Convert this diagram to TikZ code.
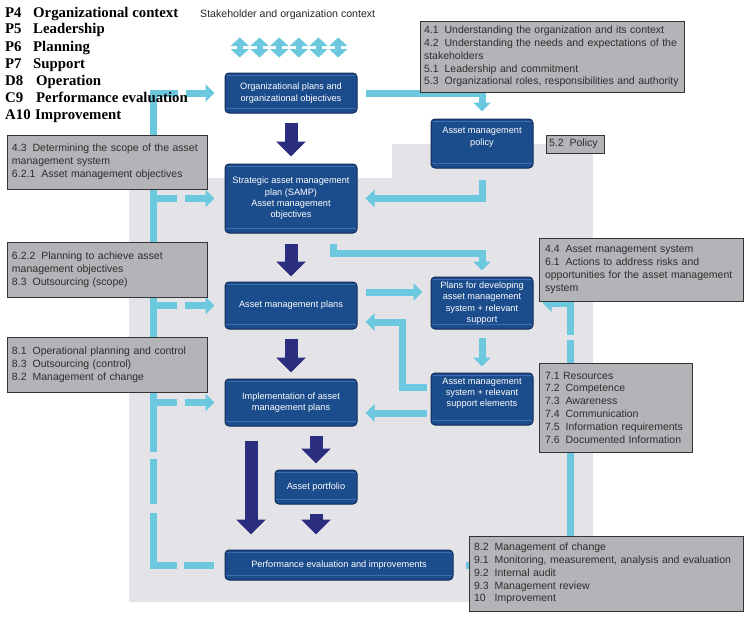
\documentclass[tikz,border=0pt]{standalone}
\usepackage{fontspec}
\setmainfont{Liberation Sans}
\newfontfamily\legendfont{Liberation Serif}
\usetikzlibrary{arrows.meta}
\definecolor{lblue}{RGB}{108,200,222}
\definecolor{navyar}{RGB}{43,46,126}
\definecolor{boxblue}{RGB}{27,76,140}
\definecolor{boxedge}{RGB}{15,42,88}
\definecolor{boxlight}{RGB}{62,108,172}
\definecolor{bggray}{RGB}{228,228,232}
\definecolor{notegray}{RGB}{180,180,184}
\definecolor{notetext}{RGB}{45,45,45}
\newcommand{\ngap}{\hspace{6pt}}
\begin{document}
\begin{tikzpicture}[x=1pt,y=-1pt,
  bbox/.style={draw=boxedge, fill=boxblue, line width=1pt, rounded corners=4pt,
    text=white, align=center, inner sep=0pt, font=\fontsize{9.2}{11.3}\selectfont,
    path picture={\draw[boxlight, line width=1pt]
      ([yshift=5pt]path picture bounding box.south west) -- ([yshift=5pt]path picture bounding box.south east);
      \draw[boxlight, line width=0.8pt]
      ([yshift=-2.5pt]path picture bounding box.north west) -- ([yshift=-2.5pt]path picture bounding box.north east);}},
  note/.style={draw=black!80, fill=notegray, line width=0.9pt, text=notetext,
    align=left, inner ysep=0pt, font=\fontsize{10.5}{12.8}\selectfont},
  legend/.style={anchor=base west, inner sep=0pt, font=\legendfont\bfseries\fontsize{14.8}{17}\selectfont},
  navyarrow/.style={draw=navyar, line width=13pt, -{Triangle[width=29pt,length=15pt]}},
  lb/.style={draw=lblue, line width=7pt},
  lbarrow/.style={lb, -{Triangle[width=17pt,length=9pt]}},
  stakearrow/.style={draw=lblue, line width=6pt, {Triangle[width=18pt,length=8.5pt]}-{Triangle[width=18pt,length=8.5pt]}}
]
\useasboundingbox (0,0) rectangle (753,621);
\fill[white] (0,0) rectangle (753,621);
\fill[bggray] (129,178) -- (392,178) -- (392,144) -- (593,144) -- (593,602) -- (129,602) -- cycle;

\node[anchor=base west, inner sep=0pt, text=black!85, font=\fontsize{10.6}{12}\selectfont] (stk) at (200,17) {Stakeholder and organization context};
\foreach \x in {239.8,259.5,279.2,298.8,318.5,338.2}
  \draw[stakearrow] (\x,37.5) -- (\x,57.5);

% blue boxes
\node[bbox, minimum width=132pt, minimum height=40pt] (b1) at (291,93) {Organizational plans and\\organizational objectives};
\node[bbox, minimum width=102pt, minimum height=49pt] (b2) at (482,143.5) {Asset management\\policy\\[3pt]};
\node[bbox, minimum width=132pt, minimum height=69pt] (b3) at (291,198.5) {Strategic asset management\\plan (SAMP)\\Asset management\\objectives};
\node[bbox, minimum width=132pt, minimum height=47pt] (b4) at (291,305.5) {Asset management plans};
\node[bbox, minimum width=102pt, minimum height=52pt] (b5) at (482,303) {Plans for developing\\asset management\\system + relevant\\support};
\node[bbox, minimum width=102pt, minimum height=52pt] (b6) at (482,399) {Asset management\\system + relevant\\support elements\\[2pt]};
\node[bbox, minimum width=132pt, minimum height=47pt] (b7) at (291,402.5) {Implementation of asset\\management plans};
\node[bbox, minimum width=82pt, minimum height=34pt] (b8) at (316,487) {Asset portfolio};
\node[bbox, minimum width=228pt, minimum height=30pt] (b9) at (339,565) {Performance evaluation and improvements};

% navy block arrows
\draw[navyarrow, shorten <=9pt, shorten >=7pt] (b1.south) -- (b3.north);
\draw[navyarrow, shorten <=10pt, shorten >=5pt] (b3.south) -- (b4.north);
\draw[navyarrow, shorten <=9pt, shorten >=6pt] (b4.south) -- (b7.north);
\draw[navyarrow, shorten <=9pt, shorten >=6pt] (b7.south -| b8.north) -- (b8.north);
\draw[navyarrow, shorten <=9pt, shorten >=15pt] (b8.south) -- (b8.south |- b9.north);
\draw[navyarrow, shorten <=14pt, shorten >=15pt] ([xshift=-40pt]b7.south) -- ([xshift=-40pt]b7.south |- b9.north);

% light blue connectors
\coordinate (c3b) at (333,253);
\coordinate (c6a) at (402,387);
\coordinate (c6b) at (402,322);
\coordinate (c8a) at (570,565);
\coordinate (c8b) at (570,303);
\coordinate (cLb) at (153,565);
\coordinate (cLt) at (153,93);

\draw[lbarrow, shorten <=8pt, shorten >=7pt] (b1.east) -- (b1.east -| b2.north) -- (b2.north);
\draw[lbarrow, shorten <=11pt, shorten >=8pt] (b2.south) -- (b2.south |- b3.east) -- (b3.east);
\draw[lbarrow, shorten <=10pt, shorten >=6pt] (c3b |- b3.south) -- (c3b) -- (c3b -| b5.north) -- (b5.north);
\draw[lbarrow, shorten <=8pt, shorten >=8pt] ([yshift=13.5pt]b4.east) -- ([yshift=13.5pt]b4.east -| b5.west);
\draw[lbarrow, shorten <=8pt, shorten >=6pt] (b5.south) -- (b6.north);
\draw[lbarrow, shorten <=4pt, shorten >=8pt] ([yshift=12pt]b6.west) -- (c6a) -- (c6b) -- (c6b -| b4.east);
\draw[lbarrow, shorten <=4pt, shorten >=8pt] ([yshift=-14pt]b6.west) -- ([yshift=-14pt]b6.west -| b7.east);
\draw[lbarrow, shorten <=12pt, shorten >=9pt, dash pattern=on 330pt off 5pt on 1000pt] (b9.east) -- (c8a) -- (c8b) -- (b5.east);
\draw[lbarrow, shorten <=11pt, shorten >=10pt, dash pattern=on 30pt off 7pt on 76pt off 9pt on 45pt off 7pt on 383pt off 8pt on 300pt] (b9.west) -- (cLb) -- (cLt) -- (b1.west);
\draw[lbarrow, shorten >=10pt, dash pattern=on 24pt off 8pt on 200pt] (cLt |- b3.west) -- (b3.west);
\draw[lbarrow, shorten >=10pt, dash pattern=on 24pt off 8pt on 200pt] (cLt |- b4.west) -- (b4.west);
\draw[lbarrow, shorten >=10pt, dash pattern=on 24pt off 8pt on 200pt] (cLt |- b7.west) -- (b7.west);

% notes
\node[note, minimum height=71pt, text width=256pt, inner xsep=4pt] (nA) at (552,56.5) {4.1\ngap Understanding the organization and its context\\4.2\ngap Understanding the needs and expectations of the\\stakeholders\\5.1\ngap Leadership and commitment\\5.3\ngap Organizational roles, responsibilities and authority};
\node[note, minimum height=18pt, text width=52pt, inner xsep=3pt] (nP) at (575,144) {5.2\ngap Policy};
\node[note, minimum height=54pt, text width=190pt, inner xsep=5pt] (nB) at (107,162) {4.3\ngap Determining the scope of the asset\\management system\\6.2.1\ngap Asset management objectives};
\node[note, minimum height=55pt, text width=190pt, inner xsep=5pt] (nC) at (107,269.5) {6.2.2\ngap Planning to achieve asset\\management objectives\\8.3\ngap Outsourcing (scope)};
\node[note, minimum height=55pt, text width=190pt, inner xsep=5pt] (nD) at (107,364.5) {8.1\ngap Operational planning and control\\8.3\ngap Outsourcing (control)\\8.2\ngap Management of change};
\node[note, minimum height=63pt, text width=192pt, inner xsep=6pt] (nE) at (641,269.5) {4.4\ngap Asset management system\\6.1\ngap Actions to address risks and\\opportunities for the asset management\\system};
\node[note, minimum height=89pt, text width=141pt, inner xsep=6pt] (nF) at (615.5,407.5) {7.1 Resources\\7.2\ngap Competence\\7.3\ngap Awareness\\7.4\ngap Communication\\7.5\ngap Information requirements\\7.6\ngap Documented Information};
\node[note, minimum height=75pt, text width=264pt, inner xsep=5pt] (nG) at (606,573.5) {8.2\ngap Management of change\\9.1\ngap Monitoring, measurement, analysis and evaluation\\9.2\ngap Internal audit\\9.3\ngap Management review\\10\ngap\hspace{3pt}Improvement};

% legend (on top)
\node[legend] (l4) at (5,17) {\makebox[28pt][l]{P4}Organizational context};
\node[legend] (l5) at (5,34) {\makebox[28pt][l]{P5}Leadership};
\node[legend] (l6) at (5,51) {\makebox[28pt][l]{P6}Planning};
\node[legend] (l7) at (5,68) {\makebox[28pt][l]{P7}Support};
\node[legend] (l8) at (5,85) {\makebox[31pt][l]{D8}Operation};
\node[legend] (l9) at (5,102) {\makebox[31pt][l]{C9}Performance evaluation};
\node[legend] (l10) at (5,119) {\makebox[30pt][l]{A10}Improvement};
\end{tikzpicture}
\end{document}
